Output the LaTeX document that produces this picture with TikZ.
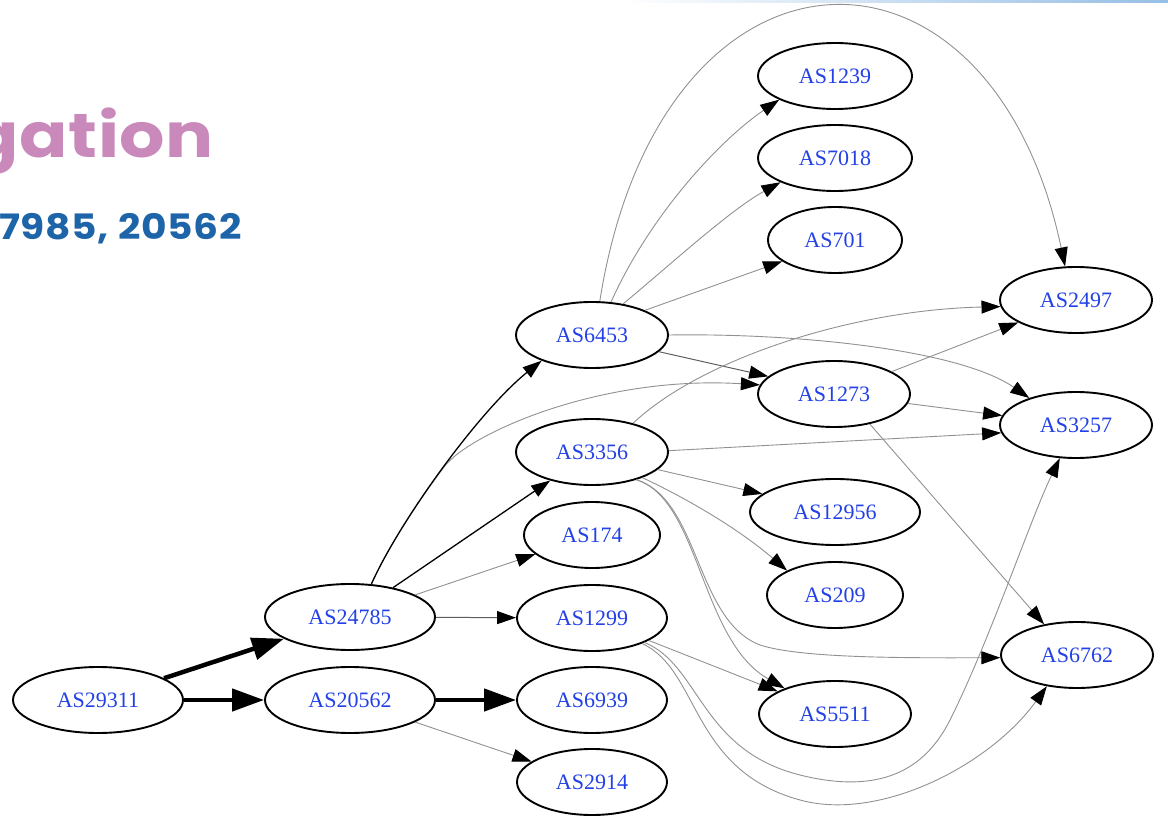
\documentclass[tikz,border=0pt]{standalone}
\usepackage{fontspec}
\setmainfont{Liberation Serif}
\newfontfamily\titlefont{Poppins}
\usetikzlibrary{shapes.geometric,arrows.meta}
\definecolor{asblue}{RGB}{35,65,230}
\definecolor{titlepink}{RGB}{201,137,187}
\definecolor{titleblue}{RGB}{30,100,168}
\definecolor{edgegray}{RGB}{145,145,145}
\definecolor{midgray}{RGB}{95,95,95}
\definecolor{barblue}{RGB}{150,190,228}
\begin{document}
\begin{tikzpicture}[x=1pt,y=-1pt,
  asnode/.style={ellipse, draw=black, line width=1.9pt, fill=white, text=asblue,
    font=\fontsize{22}{24}\selectfont, inner sep=0pt, minimum height=66pt},
  thinedge/.style={draw=edgegray, line width=0.9pt, -{Triangle[length=19pt,width=13pt,color=black]}},
  midedge/.style={draw=midgray, line width=1pt, -{Triangle[length=19pt,width=13pt,color=black]}},
  mededge/.style={draw=black, line width=1.3pt, -{Triangle[length=19pt,width=13pt]}},
  heavyedge/.style={draw=black, line width=4.5pt, -{Triangle[length=32pt,width=22pt]}},
  titleA/.style={font=\titlefont\bfseries\fontsize{62}{66}\selectfont\addfontfeatures{FakeStretch=1.15,LetterSpace=1}, text=titlepink, inner sep=0pt},
  titleB/.style={font=\titlefont\bfseries\fontsize{35}{40}\selectfont\addfontfeatures{FakeStretch=1.12,LetterSpace=2}, text=titleblue, inner sep=0pt}
]
\useasboundingbox (0,0) rectangle (1168,829);
\clip (0,0) rectangle (1168,829);
\shade[left color=white, right color=barblue] (620,0) rectangle (1168,3);

% titles
\node[titleA, anchor=base east] (t1) at (214,158) {gation};
\node[titleB, anchor=base east] (t2) at (242,240) {7985, 20562};

% nodes
\node[asnode, minimum width=170pt] (n29311) at (98,700) {AS29311};
\node[asnode, minimum width=170pt] (n24785) at (350,617) {AS24785};
\node[asnode, minimum width=170pt] (n20562) at (350,700) {AS20562};
\node[asnode, minimum width=152pt] (n6453) at (592,335) {AS6453};
\node[asnode, minimum width=152pt] (n3356) at (592,452) {AS3356};
\node[asnode, minimum width=136pt] (n174) at (592,535) {AS174};
\node[asnode, minimum width=150pt] (n1299) at (592,618) {AS1299};
\node[asnode, minimum width=150pt] (n6939) at (592,700) {AS6939};
\node[asnode, minimum width=150pt] (n2914) at (592,782) {AS2914};
\node[asnode, minimum width=154pt] (n1239) at (835,76) {AS1239};
\node[asnode, minimum width=154pt] (n7018) at (835,158) {AS7018};
\node[asnode, minimum width=134pt] (n701) at (835,240) {AS701};
\node[asnode, minimum width=152pt] (n1273) at (834,394) {AS1273};
\node[asnode, minimum width=170pt] (n12956) at (835,512) {AS12956};
\node[asnode, minimum width=136pt] (n209) at (835,595) {AS209};
\node[asnode, minimum width=152pt] (n5511) at (835,714) {AS5511};
\node[asnode, minimum width=152pt] (n2497) at (1076,300) {AS2497};
\node[asnode, minimum width=152pt] (n3257) at (1076,425) {AS3257};
\node[asnode, minimum width=152pt] (n6762) at (1077,655) {AS6762};

% heavy edges
\draw[heavyedge] (n29311) -- (n24785);
\draw[heavyedge] (n29311) -- (n20562);
\draw[heavyedge] (n20562) -- (n6939);

% from AS20562
\draw[thinedge] (n20562) -- (n2914);

% from AS24785
\draw[thinedge] (n24785.57) .. controls (385.5,552.5) and (412.75,508.75) .. (444,467)
  .. controls (469,433.6) and (600,375) .. (n1273.173);
\draw[mededge] (n24785.57) .. controls (400,520) and (480,410) .. (n6453.207);
\draw[mededge] (n24785) -- (n3356);
\draw[thinedge] (n24785) -- (n174);
\draw[midedge] (n24785) -- (n1299);

% from AS6453
\draw[thinedge] (n6453.77) .. controls (660,-80) and (990,-90) .. (n2497.108);
\draw[thinedge] (n6453.60) .. controls (650,215) and (720,140) .. (n1239.203);
\draw[thinedge] (n6453.45) .. controls (670,265) and (730,210) .. (n7018.204);
\draw[thinedge] (n6453.25) -- (n701.202);
\draw[midedge] (n6453.-14) -- (n1273.165);
\draw[thinedge] (n6453.0) .. controls (800,333) and (960,350) .. (n3257.150);

% from AS3356
\draw[thinedge] (n3356.35) .. controls (700,360) and (850,310) .. (n2497.185);
\draw[thinedge] (n3356.1) -- (n3257.186);
\draw[thinedge] (n3356.-15) -- (n12956.166);
\draw[thinedge] (n3356.-27) .. controls (690,500) and (740,530) .. (n209.153);
\draw[thinedge] (n3356.-32) .. controls (700,500) and (700,640) .. (n5511.153);
\draw[thinedge] (n3356.-32) .. controls (700,500) and (695,620) .. (760,645)
  .. controls (800,658) and (900,658) .. (n6762.182);

% from AS1273
\draw[thinedge] (n1273) -- (n2497);
\draw[thinedge] (n1273) -- (n3257);
\draw[thinedge] (n1273.-40) -- (n6762.137);

% from AS1299
\draw[thinedge] (n1299) -- (n5511);
\draw[thinedge] (n1299.-25) .. controls (700,665) and (700,750) .. (800,775)
  .. controls (880,795) and (925,770) .. (950,720)
  .. controls (990,640) and (1030,520) .. (n3257.244);
\draw[thinedge] (n1299.-27) .. controls (700,670) and (690,770) .. (800,800)
  .. controls (880,822) and (990,765) .. (n6762.226);
\end{tikzpicture}
\end{document}
